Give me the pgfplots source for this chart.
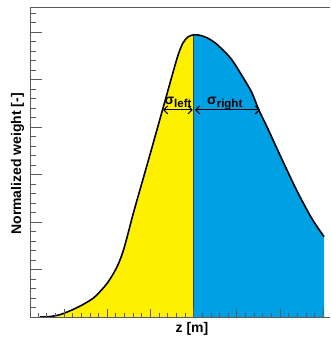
\documentclass[border=0pt]{standalone}
\usepackage{pgfplots}
\pgfplotsset{compat=1.18}
\usepackage{pgfplotstable}
\usepgfplotslibrary{fillbetween}
\usetikzlibrary{arrows.meta}
\usepackage{fontspec}
\setmainfont{Liberation Sans}
\definecolor{fillyellow}{RGB}{255,240,0}
\definecolor{fillblue}{RGB}{0,160,228}
\definecolor{axgray}{RGB}{90,90,90}

\pgfplotstableread{
x y
0.44 0
0.68 0.01
0.91 0.05
1.14 0.13
1.35 0.22
1.53 0.31
1.72 0.43
2.00 0.71
2.23 1.06
2.37 1.39
2.48 1.75
2.58 2.10
2.69 2.46
2.91 3.16
3.13 3.87
3.345 4.57
3.625 5.47
3.755 5.77
3.87 5.895
4.00 5.94
4.15 5.93
4.33 5.87
4.50 5.77
4.68 5.62
4.89 5.41
5.14 5.05
5.35 4.72
5.51 4.36
5.70 4.00
6.05 3.31
6.39 2.66
6.70 2.13
6.86 1.90
7.02 1.69
}\curvetable

\begin{document}
\begin{tikzpicture}
\begin{axis}[
  at={(30pt,21pt)}, anchor=south west,
  scale only axis, width=300pt, height=310pt,
  xmin=0.213, xmax=7.157, ymin=0, ymax=6.526,
  axis on top,
  axis x line*=box, axis y line*=left,
  axis line style={-, axgray, line width=0.9pt},
  xtick={1,...,7}, ytick={0,...,6},
  minor xtick={0.2,0.4,...,7.2},
  minor ytick={0.2,0.4,...,6.4},
  xticklabels={}, yticklabels={},
  xtick pos=bottom, ytick pos=left,
  tick align=inside,
  xtick style={/pgfplots/major tick length=8pt, /pgfplots/minor tick length=4.5pt, axgray, line width=0.7pt},
  ytick style={/pgfplots/major tick length=12pt, /pgfplots/minor tick length=6pt, axgray, line width=0.7pt},
  clip=false,
  xlabel={z [m]},
  ylabel={Normalized weight [-]},
  every axis x label/.style={at={(axis description cs:0.54,-0.0516)}, anchor=base, font=\fontsize{14}{14}\selectfont\bfseries},
  every axis y label/.style={at={(axis description cs:-0.03,0.494)}, anchor=base, rotate=90, font=\fontsize{14}{14}\selectfont\bfseries},
]
\addplot[draw=none, name path=base, forget plot] coordinates {(0.3,0) (7.1,0)};
\addplot[draw=none, smooth, name path=curve, forget plot] table[x=x,y=y]{\curvetable};
\addplot[fillyellow] fill between[of=curve and base, soft clip={domain=0.3:4}];
\addplot[fillblue] fill between[of=curve and base, soft clip={domain=4:7.02}];
\addplot[black!70!olive, line width=0.6pt] coordinates {(4,0) (4,5.94)};
\addplot[black, line width=1.6pt, smooth] table[x=x,y=y]{\curvetable};
\addplot[black, line width=1.1pt, {Straight Barb[length=4pt,width=8pt]}-{Straight Barb[length=4pt,width=8pt]}] coordinates {(3.29,4.36) (3.98,4.36)};
\addplot[black, line width=1.1pt, {Straight Barb[length=4pt,width=8pt]}-{Straight Barb[length=4pt,width=8pt]}] coordinates {(4.03,4.36) (5.54,4.36)};
\node[anchor=base, font=\fontsize{14}{14}\selectfont\bfseries, inner sep=0pt] at (axis cs:3.64,4.48) {σ\raisebox{-0.25em}{\fontsize{11.5}{11.5}\selectfont left}};
\node[anchor=base west, font=\fontsize{14}{14}\selectfont\bfseries, inner sep=0pt] at (axis cs:4.31,4.48) {σ\raisebox{-0.25em}{\fontsize{11.5}{11.5}\selectfont right}};
\end{axis}
\pgfresetboundingbox
\useasboundingbox (0,0) rectangle (330pt,338pt);
\end{tikzpicture}
\end{document}
